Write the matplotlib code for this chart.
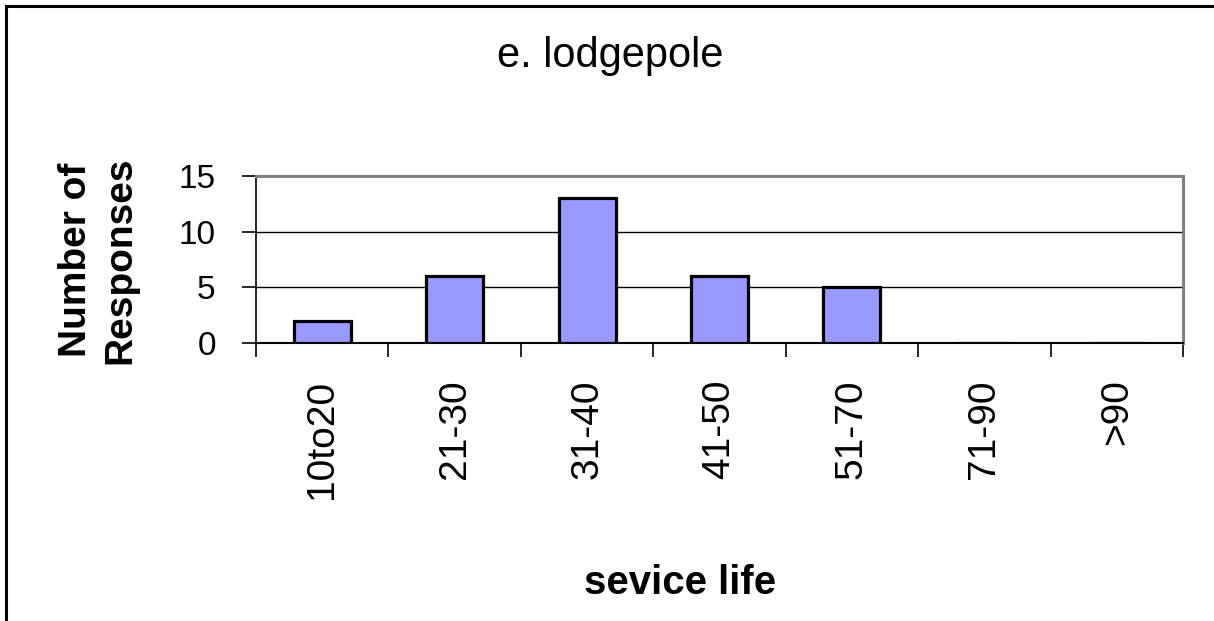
import matplotlib.pyplot as plt
from matplotlib.lines import Line2D

plt.rcParams['font.family'] = ['Liberation Sans', 'DejaVu Sans']

# data
categories = ['10to20', '21-30', '31-40', '41-50', '51-70', '71-90', '>90']
responses = [2, 6, 13, 6, 5, 0, 0]
y_ticks = [0, 5, 10, 15]

fig = plt.figure(figsize=(12.14, 6.21), dpi=100)
ax = fig.add_axes([0.2109, 0.4472, 0.7636, 0.2698])

x = list(range(len(categories)))
ax.bar(x, responses, width=0.43, color='#9999FF', edgecolor='black', linewidth=2.3, zorder=3)

ax.set_xlim(-0.5, len(categories) - 0.5)
ax.set_ylim(0, 15)
ax.set_yticks(y_ticks)
ax.set_yticklabels([str(t) for t in y_ticks], fontsize=24)
ax.tick_params(axis='y', direction='out', length=10, width=1.2, pad=19)

# x ticks sit between categories, labels at category centres
ax.set_xticks([i - 0.5 for i in range(len(categories) + 1)], minor=False)
ax.set_xticklabels([])
ax.tick_params(axis='x', which='major', direction='out', length=10, width=1.2)
ax.set_xticks(x, minor=True)
ax.set_xticklabels(categories, minor=True, rotation=90, fontsize=28)
ax.tick_params(axis='x', which='minor', length=0, pad=26)

ax.yaxis.grid(True, color='black', linewidth=1)
ax.set_axisbelow(True)

ax.spines['top'].set_color('#808080')
ax.spines['right'].set_color('#808080')
ax.spines['top'].set_linewidth(2.2)
ax.spines['right'].set_linewidth(2.2)
ax.spines['left'].set_linewidth(1.2)
ax.spines['bottom'].set_linewidth(1.5)

# title centred on the chart, axis title centred on the outer plot area
fig.text(0.503, 0.892, 'e. lodgepole', ha='center', va='baseline', fontsize=30)
fig.text(0.081, 0.581, 'Number of\nResponses', ha='center', va='center',
         rotation=90, fontsize=28, fontweight='bold', linespacing=1.3)
fig.text(0.56, 0.0435, 'sevice life', ha='center', va='baseline', fontsize=29, fontweight='bold')

# figure border (only left and top visible)
fig.add_artist(Line2D([0.0049, 0.0049], [0, 0.9903], color='black', linewidth=2.2,
                      transform=fig.transFigure))
fig.add_artist(Line2D([0.0049, 1], [0.9903, 0.9903], color='black', linewidth=2.2,
                      transform=fig.transFigure))

fig.savefig('out.png', dpi=100)
